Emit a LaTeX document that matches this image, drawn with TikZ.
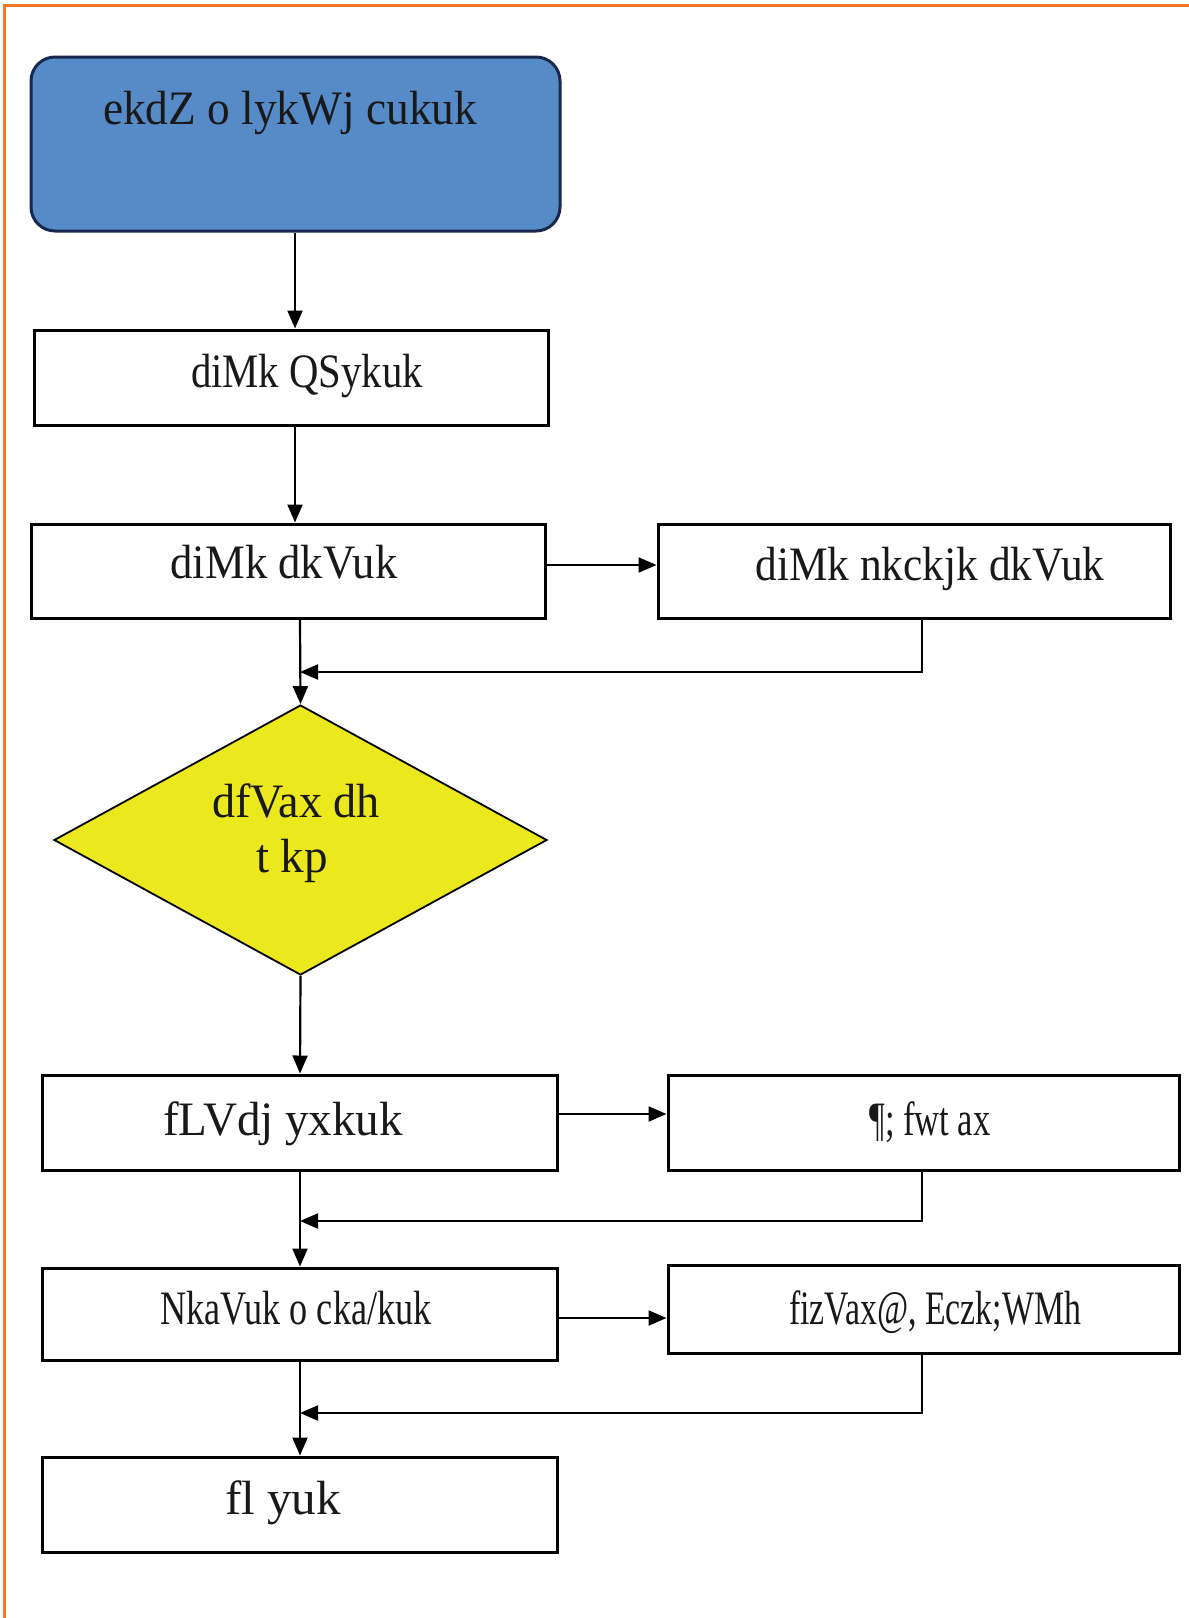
\documentclass[tikz,border=0pt]{standalone}
\usepackage{fontspec}
\setmainfont{Liberation Serif}[Ligatures=NoCommon]
\usetikzlibrary{shapes.geometric,arrows.meta}

% set a label at its natural height, squeezed or stretched sideways to a given width (pt)
\newsavebox\fitbox
\newcommand\fitto[2]{\sbox\fitbox{#2}\scalebox{\fpeval{#1/\wd\fitbox}}[1]{\usebox\fitbox}}

\definecolor{frameorange}{RGB}{240,120,40}
\definecolor{startblue}{RGB}{86,139,200}
\definecolor{startedge}{RGB}{25,40,80}
\definecolor{checkyellow}{RGB}{236,232,30}

\tikzset{
  box/.style={draw=black, line width=3pt, fill=white, inner sep=0pt},
  startbox/.style={draw=startedge, line width=3pt, fill=startblue, rounded corners=24pt, inner sep=0pt},
  checkbox/.style={shape=diamond, draw=black, line width=1.8pt, fill=checkyellow, inner sep=0pt},
  lbl/.style={anchor=base, inner sep=0pt, text=black!90, font=\fontsize{48}{56}\selectfont},
  arr/.style={draw=black, line width=2.2pt, -{Triangle[length=18pt,width=15pt]}},
}

\begin{document}
\begin{tikzpicture}[x=1pt,y=-1pt]
  \useasboundingbox (0,0) rectangle (1189,1618);
  \fill[white] (0,0) rectangle (1189,1618);

  % outer frame
  \draw[frameorange, line width=3pt] (4,1618) -- (4,5) -- (1189,5);

  % column guides
  \coordinate (topcol) at (295,0);
  \coordinate (col) at (300,0);
  \coordinate (fb) at (922,0);

  % boxes
  \node[startbox, minimum width=529pt, minimum height=174pt] (start) at (295.5,144) {};
  \node[box, minimum width=514pt, minimum height=95pt] (spread) at (291,377.5) {};
  \node[box, minimum width=514pt, minimum height=94pt] (cut) at (288,571) {};
  \node[box, minimum width=512pt, minimum height=94pt] (recut) at (914,571) {};
  \node[checkbox, minimum width=493pt, minimum height=270pt] (check) at (300.5,840) {};
  \node[box, minimum width=515pt, minimum height=95pt] (sticker) at (299.5,1122.5) {};
  \node[box, minimum width=511pt, minimum height=95pt] (fuse) at (923.5,1122.5) {};
  \node[box, minimum width=515pt, minimum height=92pt] (sort) at (299.5,1314) {};
  \node[box, minimum width=511pt, minimum height=88pt] (print) at (923.5,1309) {};
  \node[box, minimum width=515pt, minimum height=95pt] (sew) at (299.5,1504.5) {};

  % labels
  \node[lbl] (tstart) at (290,124) {\fitto{374}{ekdZ o lykWj cukuk}};
  \node[lbl] (tspread) at (307,387) {\fitto{232}{diMk QSykuk}};
  \node[lbl] (tcut) at (284,578) {\fitto{227}{diMk dkVuk}};
  \node[lbl] (trecut) at (930,580) {\fitto{349}{diMk nkckjk dkVuk}};
  \node[lbl] (tcheckA) at (296,817) {\fitto{168}{dfVax dh}};
  \node[lbl] (tcheckB) at (292,872) {\fitto{72}{t kp}};
  \node[lbl] (tsticker) at (283,1135) {\fitto{240}{fLVdj yxkuk}};
  \node[lbl] (tfuse) at (930,1135) {\fitto{121}{¶; fwt ax}};
  \node[lbl] (tsort) at (296,1324) {\fitto{271}{NkaVuk o cka/kuk}};
  \node[lbl] (tprint) at (935,1324) {\fitto{292}{fizVax@, Eczk;WMh}};
  \node[lbl] (tsew) at (283,1514) {\fitto{116}{fl yuk}};

  % main flow
  \draw[arr] (start.south -| topcol) -- (spread.north -| topcol);
  \draw[arr] (spread.south -| topcol) -- (cut.north -| topcol);
  \draw[arr] (cut.south -| col) -- (check.north);
  \draw[arr] (check.south) -- (sticker.north -| col);
  \draw[arr] (sticker.south -| col) -- (sort.north -| col);
  \draw[arr] (sort.south -| col) -- (sew.north -| col);

  % side steps
  \coordinate (side1) at ([yshift=6pt]cut.east);
  \coordinate (side2) at ([yshift=8.5pt]sticker.east);
  \coordinate (side3) at ([yshift=-4pt]sort.east);
  \draw[arr] (side1) -- (recut.west |- side1);
  \draw[arr] (side2) -- (fuse.west |- side2);
  \draw[arr] (side3) -- (print.west |- side3);

  % returns to the main flow
  \coordinate (ret1) at (300,672);
  \coordinate (ret2) at (300,1221);
  \coordinate (ret3) at (300,1413);
  \draw[arr] (recut.south -| fb) |- (ret1);
  \draw[arr] (fuse.south -| fb) |- (ret2);
  \draw[arr] (print.south -| fb) |- (ret3);
\end{tikzpicture}
\end{document}
